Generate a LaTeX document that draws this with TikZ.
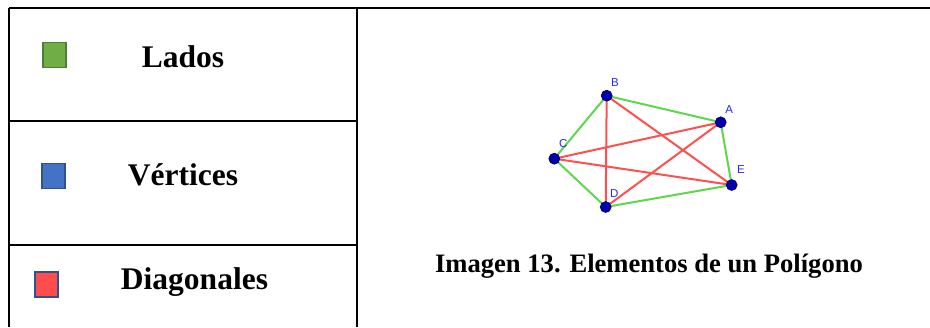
\documentclass[tikz,border=0pt]{standalone}
\usepackage{fontspec}
\usetikzlibrary{backgrounds}
\setmainfont{Liberation Serif}
\newfontfamily\lblfont{Liberation Sans}
\definecolor{legG}{HTML}{70AD47}
\definecolor{legGb}{HTML}{507E32}
\definecolor{legB}{HTML}{4472C4}
\definecolor{legBb}{HTML}{2F528F}
\definecolor{legR}{HTML}{FF4D4D}
\definecolor{sideG}{RGB}{95,215,75}
\definecolor{diagR}{RGB}{255,80,80}
\definecolor{vtx}{RGB}{0,0,175}
\definecolor{vtxb}{RGB}{0,0,90}
\definecolor{lblB}{RGB}{40,40,230}
\tikzset{
  frame/.style={line width=2pt, black},
  legbox/.style={minimum width=23pt, minimum height=25pt, inner sep=0pt, line width=1.6pt},
  legtext/.style={font=\bfseries\fontsize{31.5}{36}\selectfont, anchor=base, inner sep=0pt},
  captext/.style={font=\bfseries\fontsize{26.6}{30}\selectfont, anchor=base, inner sep=0pt},
  vertex/.style={circle, fill=vtx, draw=vtxb, line width=0.6pt, minimum size=11pt, inner sep=0pt},
  vlabel/.style={font=\lblfont\fontsize{11.5}{13}\selectfont, text=lblB, inner sep=0pt},
  side/.style={sideG, line width=2pt},
  diag/.style={diagR, line width=2pt},
}
\begin{document}
\begin{tikzpicture}[x=1pt,y=-1pt]
\useasboundingbox (0,0) rectangle (930,327);
% table frame
\coordinate (tl) at (9,8);
\coordinate (tr) at (930,8);
\coordinate (bl) at (9,327);
\coordinate (mt) at (357,8);
\coordinate (mb) at (357,327);
\coordinate (h1l) at (9,121);
\coordinate (h1r) at (357,121);
\coordinate (h2l) at (9,245);
\coordinate (h2r) at (357,245);
\draw[frame] (tl) -- (tr);
\draw[frame] (tl) -- (bl);
\draw[frame] (mt) -- (mb);
\draw[frame] (h1l) -- (h1r);
\draw[frame] (h2l) -- (h2r);
% legend
\node[legbox, fill=legG, draw=legGb] (sqG) at (54.5,55) {};
\node[legbox, fill=legB, draw=legBb] (sqB) at (53.5,176) {};
\node[legbox, fill=legR, draw=legBb] (sqR) at (46.5,284.5) {};
\node[legtext] (tLados) at (183,67) {Lados};
\node[legtext] (tVert) at (183,185) {Vértices};
\node[legtext] (tDiag) at (194.5,289) {Diagonales};
% caption
\node[captext] (cap) at (649,272) {Imagen 13. Elementos de un Polígono};
% polygon
\node[vertex] (B) at (606.7,95.7) {};
\node[vertex] (A) at (720.7,122.3) {};
\node[vertex] (C) at (554.3,158.7) {};
\node[vertex] (E) at (731.7,185) {};
\node[vertex] (D) at (605.7,207) {};
\begin{pgfonlayer}{background}
\draw[diag] (B.center) -- (D.center);
\draw[diag] (B.center) -- (E.center);
\draw[diag] (C.center) -- (A.center);
\draw[diag] (C.center) -- (E.center);
\draw[diag] (D.center) -- (A.center);
\draw[side] (B.center) -- (A.center);
\draw[side] (A.center) -- (E.center);
\draw[side] (E.center) -- (D.center);
\draw[side] (D.center) -- (C.center);
\draw[side] (C.center) -- (B.center);
\end{pgfonlayer}
\node[vlabel] (lB) at (615,82.7) {B};
\node[vlabel] (lA) at (729.3,110) {A};
\node[vlabel] (lC) at (563.3,144) {C};
\node[vlabel] (lE) at (741,170) {E};
\node[vlabel] (lD) at (614.3,194) {D};
\end{tikzpicture}
\end{document}
